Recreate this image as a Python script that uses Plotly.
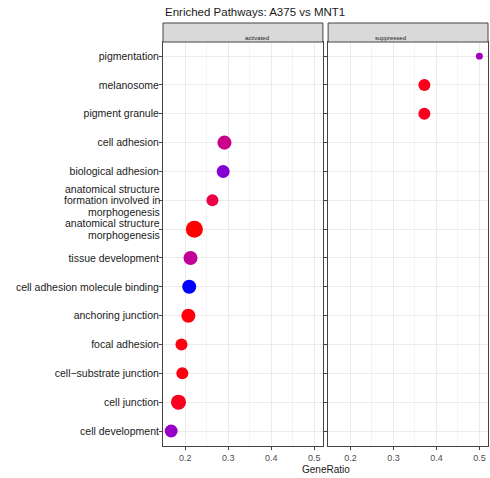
import plotly.graph_objects as go
from plotly.subplots import make_subplots

# ---- data ----
pathways = [
    "pigmentation", "melanosome", "pigment granule", "cell adhesion",
    "biological adhesion",
    "anatomical structure<br>formation involved in<br>morphogenesis",
    "anatomical structure<br>morphogenesis",
    "tissue development", "cell adhesion molecule binding",
    "anchoring junction", "focal adhesion", "cell\u2212substrate junction",
    "cell junction", "cell development",
]
facet = ["suppressed", "suppressed", "suppressed", "activated", "activated",
         "activated", "activated", "activated", "activated", "activated",
         "activated", "activated", "activated", "activated"]
gene_ratio = [0.500, 0.372, 0.372, 0.291, 0.288, 0.263, 0.221, 0.212, 0.209,
              0.207, 0.191, 0.193, 0.184, 0.167]
counts = [10, 30, 30, 41, 35, 30, 60, 41, 41, 41, 30, 30, 47, 35]
p_adjust = [0.72, 0.06, 0.06, 0.50, 0.82, 0.20, 0.00, 0.56, 1.00, 0.02, 0.03,
            0.03, 0.07, 0.76]
facets = ["activated", "suppressed"]
x_ticks = [0.2, 0.3, 0.4, 0.5]

FONT = "Liberation Sans, Arial, sans-serif"
W, H = 490, 478
ML, MR, MT, MB = 163, 2, 42, 32
YFONT = 10.5
LINE_H = 11.7


# red -> blue gradient interpolated in CIE Lab (as ggplot2 does)
def _srgb_to_lin(c):
    c = c / 255.0
    return c / 12.92 if c <= 0.04045 else ((c + 0.055) / 1.055) ** 2.4


def _lin_to_srgb(c):
    c = max(0.0, min(1.0, c))
    v = 12.92 * c if c <= 0.0031308 else 1.055 * c ** (1 / 2.4) - 0.055
    return int(round(max(0, min(1, v)) * 255))


WP = (0.95047, 1.0, 1.08883)


def rgb_to_lab(rgb):
    r, g, b = [_srgb_to_lin(v) for v in rgb]
    X = 0.4124 * r + 0.3576 * g + 0.1805 * b
    Y = 0.2126 * r + 0.7152 * g + 0.0722 * b
    Z = 0.0193 * r + 0.1192 * g + 0.9505 * b

    def f(t):
        return t ** (1 / 3) if t > 0.008856 else 7.787 * t + 16 / 116
    fx, fy, fz = f(X / WP[0]), f(Y / WP[1]), f(Z / WP[2])
    return (116 * fy - 16, 500 * (fx - fy), 200 * (fy - fz))


def lab_to_rgb(lab):
    L, a, b = lab
    fy = (L + 16) / 116
    fx = fy + a / 500
    fz = fy - b / 200

    def finv(t):
        return t ** 3 if t ** 3 > 0.008856 else (t - 16 / 116) / 7.787
    X, Y, Z = WP[0] * finv(fx), WP[1] * finv(fy), WP[2] * finv(fz)
    r = 3.2406 * X - 1.5372 * Y - 0.4986 * Z
    g = -0.9689 * X + 1.8758 * Y + 0.0415 * Z
    bb = 0.0557 * X - 0.2040 * Y + 1.0570 * Z
    return tuple(_lin_to_srgb(v) for v in (r, g, bb))


lab_lo = rgb_to_lab((255, 0, 0))
lab_hi = rgb_to_lab((0, 0, 255))
colorscale = []
N = 20
for k in range(N + 1):
    t = k / N
    lab = tuple(lo + (hi - lo) * t for lo, hi in zip(lab_lo, lab_hi))
    r, g, b = lab_to_rgb(lab)
    colorscale.append([t, f"rgb({r},{g},{b})"])

fig = make_subplots(rows=1, cols=2, shared_yaxes=True, horizontal_spacing=0.016)

max_size = 17
sizeref = 2.0 * max(counts) / (max_size ** 2)
for ci, f in enumerate(facets, start=1):
    idx = [i for i, ff in enumerate(facet) if ff == f]
    fig.add_trace(go.Scatter(
        x=[gene_ratio[i] for i in idx],
        y=[pathways[i] for i in idx],
        mode="markers",
        marker=dict(
            size=[counts[i] for i in idx], sizemode="area", sizeref=sizeref,
            color=[p_adjust[i] for i in idx], cmin=0, cmax=1,
            colorscale=colorscale,
            showscale=False, line=dict(width=0), opacity=1,
        ),
        showlegend=False, cliponaxis=False, hoverinfo="skip",
    ), row=1, col=ci)

cat_order = list(reversed(pathways))
axis_common = dict(
    showgrid=True, gridcolor="#ebebeb", gridwidth=1,
    showline=True, linecolor="#444", linewidth=1, mirror=True,
    ticks="outside", ticklen=3, tickcolor="#444",
    tickfont=dict(family=FONT, size=9, color="#4d4d4d"),
    zeroline=False,
)
for ci in (1, 2):
    fig.update_xaxes(range=[0.148, 0.52], tickvals=x_ticks,
                     ticktext=[str(v) for v in x_ticks],
                     minor=dict(dtick=0.05, tick0=0.15, showgrid=True,
                                gridcolor="#f4f4f4", ticks=""),
                     **axis_common, row=1, col=ci)
fig.update_yaxes(categoryorder="array", categoryarray=cat_order,
                 range=[-0.52, 13.49], **axis_common)
# single-line labels as tick text; multi-line labels drawn line by line
fig.update_yaxes(tickvals=pathways,
                 ticktext=["" if "<br>" in p else p for p in pathways],
                 tickfont=dict(family=FONT, size=YFONT, color="#1a1a1a"),
                 ticklabelstandoff=-2, row=1, col=1)
for p in pathways:
    if "<br>" not in p:
        continue
    lines = p.split("<br>")
    n = len(lines)
    for j, ln in enumerate(lines):
        off = (j - (n - 1) / 2) * LINE_H
        fig.add_annotation(x=0, xref="paper", xanchor="right", xshift=-1.5,
                           y=p, yref="y", yshift=-off, yanchor="middle",
                           text=ln, showarrow=False,
                           font=dict(family=FONT, size=YFONT, color="#1a1a1a"))

# facet strips
d1 = fig.layout.xaxis.domain
d2 = fig.layout.xaxis2.domain
strip_h = 19 / (H - MT - MB)
for (d, lab) in ((d1, "activated"), (d2, "suppressed")):
    fig.add_shape(type="rect", xref="paper", yref="paper",
                  x0=d[0], x1=d[1], y0=1, y1=1 + strip_h,
                  fillcolor="#d9d9d9", line=dict(color="#444", width=1))
    fig.add_annotation(x=(d[0] + d[1]) / 2, y=1 + strip_h / 2, xref="paper",
                       yref="paper", text=lab, showarrow=False,
                       font=dict(family=FONT, size=6, color="#1a1a1a"))

fig.add_annotation(x=(d1[0] + d2[1]) / 2, y=-16 / (H - MT - MB), xref="paper",
                   yref="paper", text="GeneRatio", showarrow=False,
                   yanchor="top",
                   font=dict(family=FONT, size=10, color="#1a1a1a"))

fig.update_layout(
    width=W, height=H,
    margin=dict(l=ML, r=MR, t=MT, b=MB),
    plot_bgcolor="white", paper_bgcolor="white",
    title=dict(text="Enriched Pathways: A375 vs MNT1", x=165 / W, xanchor="left",
               y=1 - 12 / H, yanchor="middle",
               font=dict(family=FONT, size=11.5, color="#1a1a1a")),
    font=dict(family=FONT),
)

fig.write_html(
    "out.html",
    config={"displayModeBar": False},
    post_script="document.body.style.margin='0';"
                "document.body.style.overflow='hidden';",
)
